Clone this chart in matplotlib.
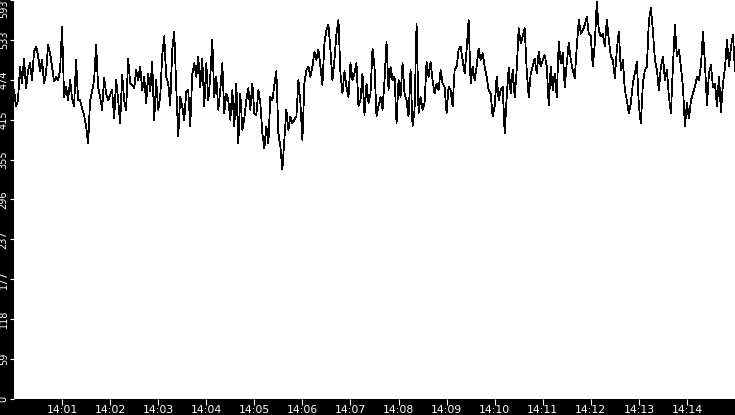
import matplotlib
matplotlib.use("Agg")
import matplotlib.pyplot as plt
import matplotlib.dates as mdates
import numpy as np
import pandas as pd

# samples every 2.5 s from 14:00:00 to 14:15:00
seg1 = [460, 435, 444, 494, 469, 506, 462, 487, 499, 474, 516, 524, 511, 487, 504,
        469, 484, 526, 514, 494, 472, 479, 474, 489, 553, 449, 464, 444, 474, 447,
        435, 504, 444, 444, 432, 422, 405, 380, 444, 457, 474, 526, 464, 449, 430,
        477, 454, 444, 452, 459, 417, 474, 444, 410, 482, 444, 430, 506, 469, 467]
seg2 = [462, 489, 474, 494, 459, 479, 440, 484, 457, 501, 415, 474, 430, 449, 511,
        539, 479, 469, 437, 519, 546, 464, 390, 449, 435, 415, 457, 459, 405, 482,
        499, 479, 509, 464, 506, 435, 499, 444, 479, 534, 449, 479, 430, 459, 499,
        425, 454, 444, 415, 459, 405, 469, 380, 454, 400, 417, 444, 462, 430, 469]
seg3 = [425, 422, 459, 440, 395, 373, 405, 380, 449, 444, 467, 487, 395, 375, 341,
        385, 430, 400, 420, 410, 415, 420, 474, 440, 385, 469, 489, 494, 479, 494,
        516, 504, 519, 494, 467, 529, 548, 556, 519, 474, 504, 543, 563, 484, 454,
        487, 464, 449, 499, 474, 484, 499, 435, 444, 484, 422, 469, 440, 454, 521]
seg4 = [494, 420, 435, 449, 430, 474, 531, 459, 494, 474, 479, 410, 474, 449, 499,
        454, 444, 420, 489, 405, 430, 558, 425, 449, 430, 440, 501, 479, 501, 474,
        454, 469, 459, 489, 469, 464, 425, 464, 459, 435, 489, 494, 519, 524, 504,
        484, 519, 563, 469, 494, 474, 494, 521, 504, 514, 494, 479, 459, 454, 420]
seg5 = [435, 479, 444, 459, 464, 395, 449, 492, 454, 489, 449, 489, 551, 529, 539,
        551, 489, 449, 484, 494, 506, 484, 516, 494, 504, 511, 494, 437, 494, 459,
        484, 449, 531, 499, 514, 464, 499, 529, 504, 489, 477, 524, 563, 543, 548,
        556, 568, 543, 539, 494, 529, 591, 548, 539, 543, 524, 563, 534, 509, 504]
seg6 = [477, 519, 546, 489, 504, 459, 444, 425, 440, 469, 484, 501, 435, 410, 469,
        489, 494, 563, 581, 548, 504, 489, 459, 494, 509, 474, 489, 449, 425, 494,
        556, 509, 519, 494, 464, 405, 440, 417, 444, 454, 464, 479, 474, 496, 546,
        499, 437, 484, 496, 464, 469, 435, 479, 427, 469, 492, 534, 494, 524, 541, 487]
values = np.array(seg1 + seg2 + seg3 + seg4 + seg5 + seg6)
times = pd.date_range("2024-01-01 14:00:00", periods=len(values), freq="2500ms")

y_max = 593
y_ticks = np.linspace(0, y_max, 11)
y_labels = [str(int(v)) for v in y_ticks]
x_ticks = pd.date_range("2024-01-01 14:01", "2024-01-01 14:14", freq="1min")

fig = plt.figure(figsize=(7.35, 4.15), dpi=100, facecolor="black")
ax = fig.add_axes([14 / 735, 16 / 415, 721 / 735, 399 / 415])
ax.set_facecolor("white")
ax.plot(times, values, color="black", lw=0.55, antialiased=False)

ax.set_xlim(pd.Timestamp("2024-01-01 14:00"), pd.Timestamp("2024-01-01 14:15"))
ax.set_ylim(0, y_max)
ax.set_xticks(x_ticks)
ax.xaxis.set_major_formatter(mdates.DateFormatter("%H:%M"))
ax.set_yticks(y_ticks)
ax.set_yticklabels(y_labels, rotation=90, va="center", fontsize=7,
                   family="DejaVu Sans")
# keep the top label inside the figure, as in the original
ax.get_yticklabels()[-1].set_va("top")
for lab in ax.get_xticklabels():
    lab.set_family("DejaVu Sans")
    lab.set_fontsize(7.8)

ax.tick_params(axis="x", colors="white", length=4, width=0.8, pad=0.3)
ax.tick_params(axis="y", colors="white", length=3, width=0.8, pad=0.8)
for s in ax.spines.values():
    s.set_visible(False)

fig.savefig("out.png", dpi=100, facecolor="black")
